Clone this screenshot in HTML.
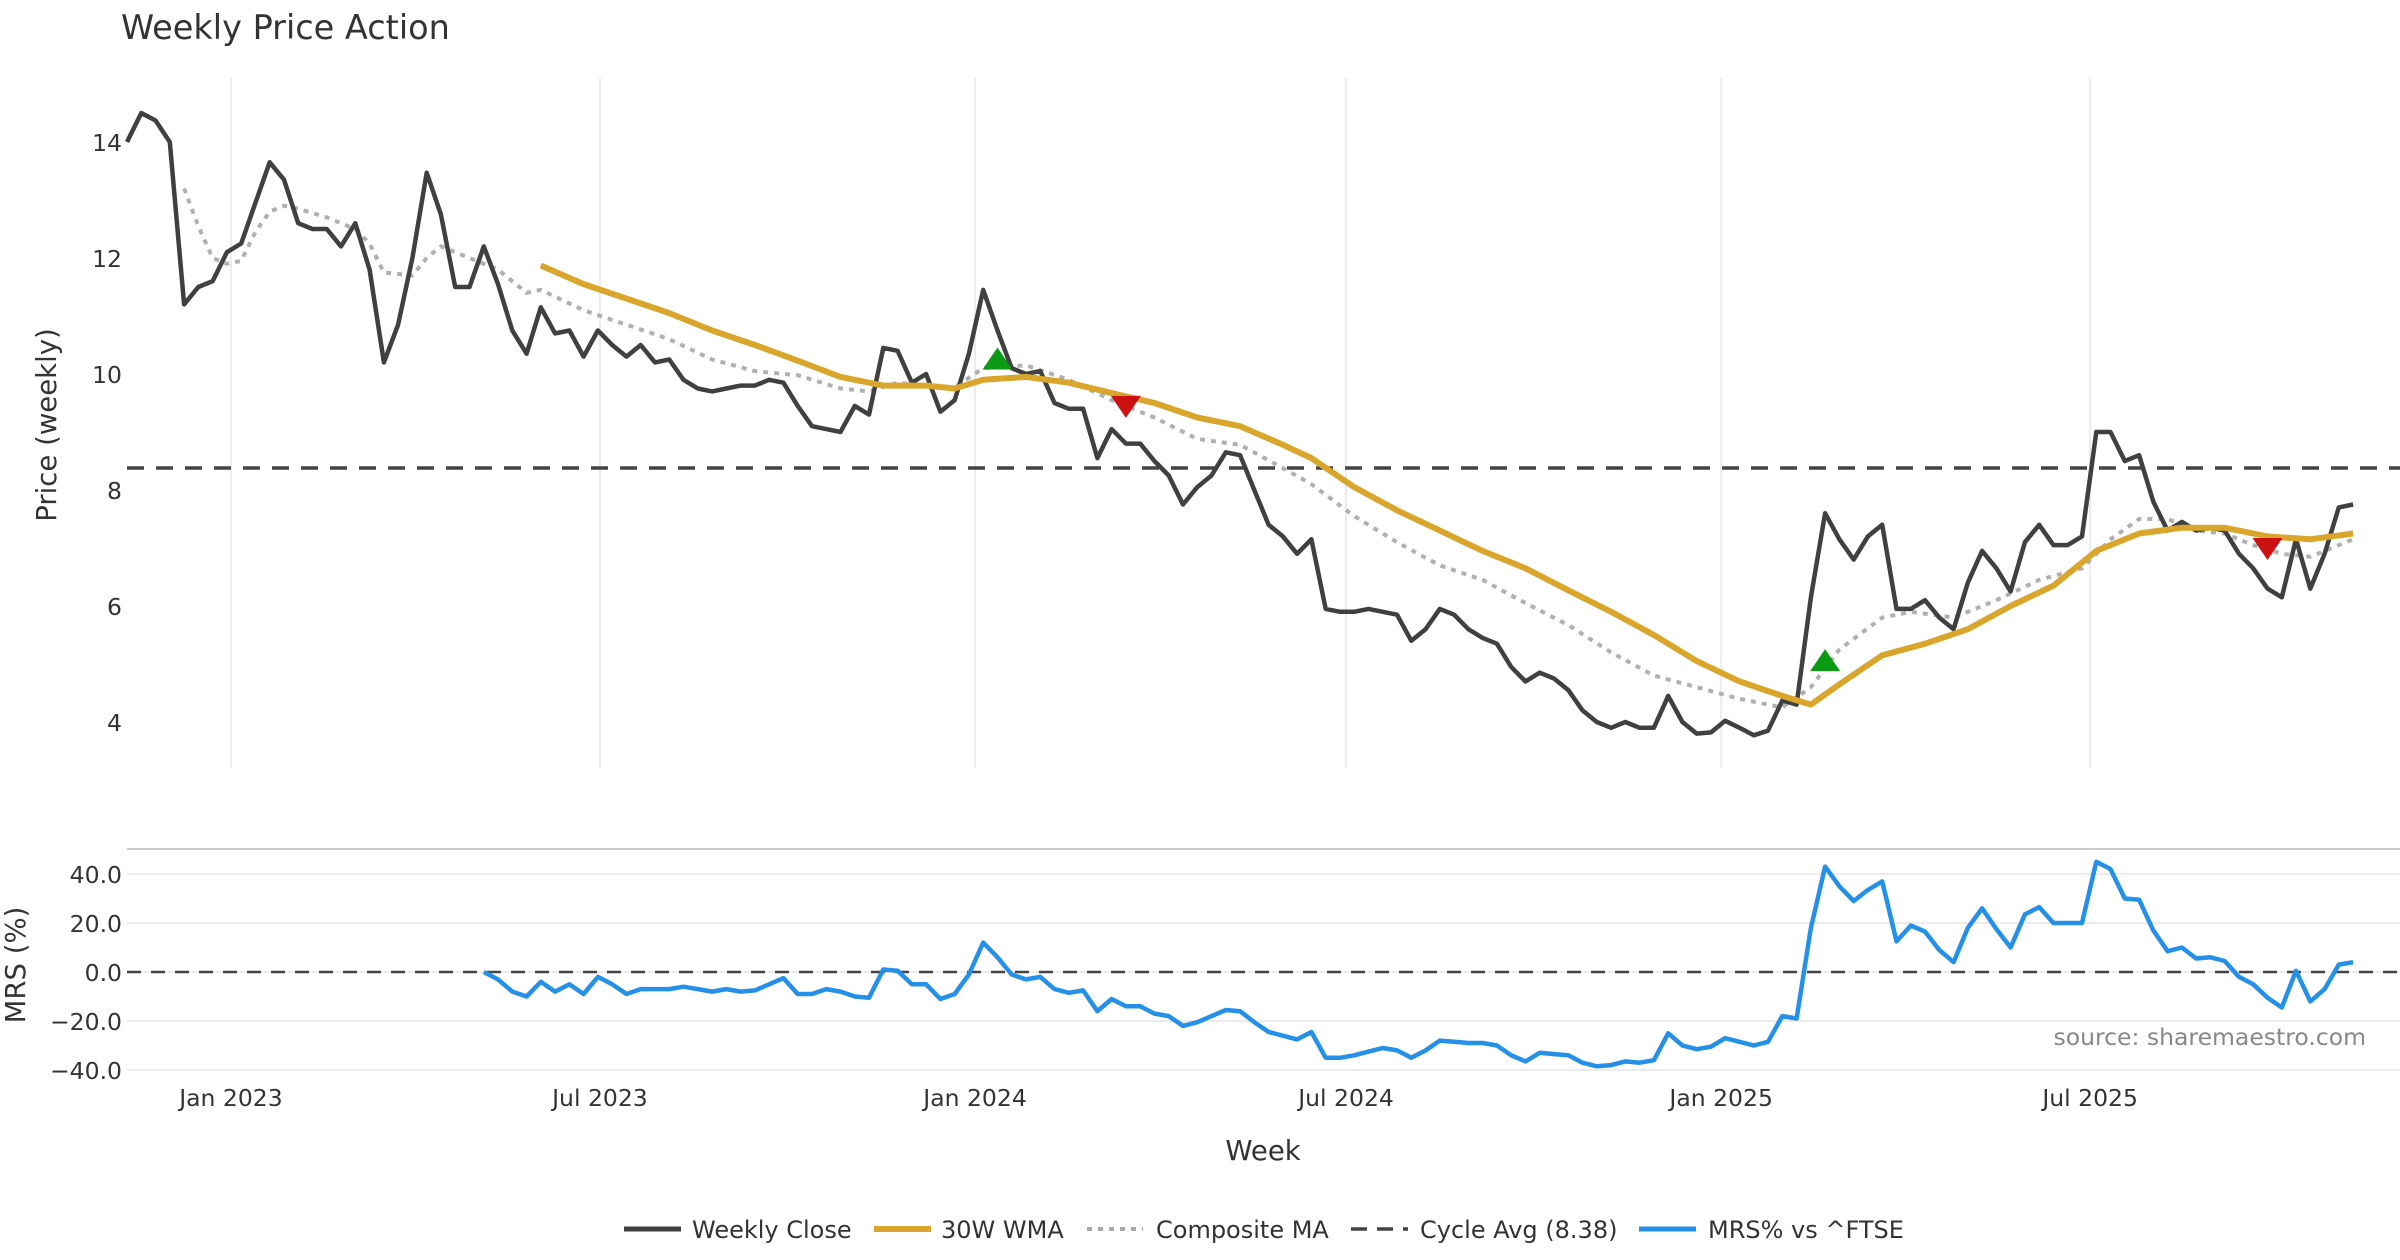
<!DOCTYPE html>
<html><head><meta charset="utf-8"><style>
html,body{margin:0;padding:0;background:#fff;}
svg{display:block;font-family:"DejaVu Sans","Liberation Sans",sans-serif;}
</style></head><body>
<svg id="chart" width="2400" height="1260" viewBox="0 0 2400 1260" xmlns="http://www.w3.org/2000/svg">
<rect width="2400" height="1260" fill="#fff"/>
<text x="121" y="39" font-size="33.5" fill="#333">Weekly Price Action</text>
<g id="grid"></g><g id="series"></g><g id="axes"></g>
<text transform="translate(56,425) rotate(-90)" text-anchor="middle" font-size="27.5" fill="#333">Price (weekly)</text>
<text transform="translate(25,965) rotate(-90)" text-anchor="middle" font-size="27.5" fill="#333">MRS (%)</text>
<text x="1263" y="1160" text-anchor="middle" font-size="27.5" fill="#333">Week</text>
<text x="2366" y="1045" text-anchor="end" font-size="23.5" fill="#888">source: sharemaestro.com</text>
<g id="legend">
<line x1="624" y1="1229" x2="681" y2="1229" stroke="#404040" stroke-width="5"/>
<text x="692" y="1238" font-size="24" fill="#333">Weekly Close</text>
<line x1="874" y1="1229" x2="931" y2="1229" stroke="#d9a62b" stroke-width="6"/>
<text x="941" y="1238" font-size="24" fill="#333">30W WMA</text>
<line x1="1087" y1="1229" x2="1143" y2="1229" stroke="#aaa" stroke-width="4" stroke-dasharray="5,6"/>
<text x="1156" y="1238" font-size="24" fill="#333">Composite MA</text>
<line x1="1351" y1="1229" x2="1408" y2="1229" stroke="#444" stroke-width="3.5" stroke-dasharray="16,10"/>
<text x="1420" y="1238" font-size="24" fill="#333">Cycle Avg (8.38)</text>
<line x1="1639" y1="1229" x2="1696" y2="1229" stroke="#2590e8" stroke-width="5"/>
<text x="1708" y="1238" font-size="24" fill="#333">MRS% vs ^FTSE</text>
</g>
</svg>
<script>
const closeVals=[14.0,14.5,14.37,14.0,11.2,11.5,11.6,12.1,12.25,12.95,13.65,13.35,12.6,12.5,12.5,12.2,12.6,11.8,10.2,10.85,12.0,13.47,12.75,11.5,11.5,12.2,11.55,10.75,10.35,11.15,10.7,10.75,10.3,10.75,10.5,10.3,10.5,10.2,10.25,9.9,9.75,9.7,9.75,9.8,9.8,9.9,9.85,9.45,9.1,9.05,9.0,9.45,9.3,10.45,10.4,9.85,10.0,9.35,9.55,10.35,11.45,10.75,10.1,10.0,10.05,9.5,9.4,9.4,8.55,9.05,8.8,8.8,8.5,8.25,7.75,8.05,8.25,8.65,8.6,8.0,7.4,7.2,6.9,7.15,5.95,5.9,5.9,5.95,5.9,5.85,5.4,5.6,5.95,5.85,5.6,5.45,5.35,4.95,4.7,4.85,4.75,4.55,4.2,4.0,3.9,4.0,3.9,3.9,4.45,4.0,3.8,3.82,4.02,3.9,3.77,3.85,4.37,4.3,6.15,7.6,7.15,6.8,7.2,7.4,5.95,5.95,6.1,5.8,5.6,6.4,6.95,6.65,6.25,7.1,7.4,7.05,7.05,7.2,9.0,9.0,8.5,8.6,7.8,7.3,7.45,7.3,7.35,7.3,6.9,6.65,6.3,6.15,7.15,6.3,6.9,7.7,7.75];
const wmaWeeks=[29,32,35,38,41,44,47,50,53,56,58,60,63,66,69,72,75,78,81,83,86,89,92,95,98,101,104,107,110,113,116,118,120,123,126,129,132,135,138,141,144,147,150,153,156];
const wmaVals=[11.87,11.55,11.3,11.05,10.75,10.5,10.23,9.95,9.8,9.8,9.75,9.9,9.95,9.85,9.67,9.5,9.25,9.1,8.78,8.55,8.05,7.65,7.3,6.95,6.65,6.27,5.9,5.5,5.05,4.7,4.45,4.3,4.65,5.15,5.35,5.6,6.0,6.35,6.95,7.25,7.35,7.35,7.2,7.15,7.25];
const cmaWeeks=[4,5,6,7,8,9,10,11,12,14,16,17,18,20,21,22,24,26,28,29,32,35,38,41,44,47,50,52,54,56,58,60,63,66,69,72,75,78,81,83,86,89,92,95,98,101,104,107,110,113,116,118,120,123,125,128,131,134,137,139,141,143,145,147,149,151,153,156];
const cmaVals=[13.2,12.55,12.0,11.9,11.95,12.45,12.8,12.9,12.85,12.7,12.5,12.25,11.75,11.7,12.0,12.2,12.0,11.8,11.4,11.45,11.1,10.85,10.6,10.25,10.05,9.98,9.75,9.7,9.85,9.8,9.77,10.1,10.15,9.9,9.55,9.25,8.88,8.78,8.38,8.1,7.55,7.1,6.7,6.45,6.05,5.67,5.2,4.8,4.6,4.4,4.25,4.6,5.25,5.8,5.9,5.8,6.1,6.45,6.65,7.15,7.5,7.5,7.3,7.25,7.05,6.9,6.85,7.15];
const mrsStart=25;
const mrsVals=[0,-3,-8,-10,-4,-8,-5,-9,-2,-5,-9,-7,-7,-7,-6,-7,-8,-7,-8,-7.5,-5,-2.5,-9,-9,-7,-8,-10,-10.5,1,0.5,-5,-5,-11,-9,-1,12,6,-1,-3,-2,-7,-8.5,-7.5,-16,-11,-14,-14,-17,-18,-22,-20.5,-18,-15.5,-16,-20.5,-24.5,-26,-27.5,-24.5,-35,-35,-34,-32.5,-31,-32,-35,-32,-28,-28.5,-29,-29,-30,-34,-36.5,-33,-33.5,-34,-37,-38.5,-38,-36.5,-37,-36,-25,-30,-31.5,-30.5,-27,-28.5,-30,-28.5,-18,-19,18,43,35,29,33.5,37,12.5,19,16.5,9,4,18,26,17.5,10,23.5,26.5,20,20,20,45,42,30,29.5,17,8.5,10,5.5,6,4.5,-2,-5,-10.5,-14.5,0.5,-12,-7,3,4];
const buyWeeks=[61,119], buyVals=[10.25,5.05];
const sellWeeks=[70,150], sellVals=[9.45,7.0];
const cycleAvg=8.38;
const priceTicks=[4,6,8,10,12,14];
const mrsTicks=[40,20,0,-20,-40];
const dateTicks=["2023-01-01","2023-07-01","2024-01-01","2024-07-01","2025-01-01","2025-07-01"];
const dateLabels=["Jan 2023","Jul 2023","Jan 2024","Jul 2024","Jan 2025","Jul 2025"];
const startDate=new Date("2022-11-11").getTime();

const NS="http://www.w3.org/2000/svg";
const X0=127, WK=14.27;
function xW(i){return X0+WK*i;}
function xD(s){return xW((new Date(s).getTime()-startDate)/(7*864e5));}
function yP(v){return 142+(14-v)*58;}
function yM(v){return 972-v*2.45;}
function mk(tag,attrs,parent){const e=document.createElementNS(NS,tag);for(const k in attrs)e.setAttribute(k,attrs[k]);parent.appendChild(e);return e;}
const grid=document.getElementById('grid'),ser=document.getElementById('series'),ax=document.getElementById('axes');

dateTicks.forEach((d,i)=>{
  const x=xD(d);
  const g=mk('line',{x1:x,y1:78,x2:x,y2:768,stroke:'#ececec','stroke-width':2},grid);
  
  
  const t=mk('text',{x:x,y:1106,'text-anchor':'middle','font-size':23.5,fill:'#333'},ax);
  t.textContent=dateLabels[i];
  
  
});
priceTicks.forEach(v=>{
  const t=mk('text',{x:122,y:yP(v)+9,'text-anchor':'end','font-size':23.5,fill:'#333'},ax);
  t.textContent=v;
  
  
});
const sep=mk('line',{x1:127,y1:849,x2:2400,y2:849,stroke:'#ccc','stroke-width':2},grid);


mrsTicks.forEach(v=>{
  const l=mk('line',{x1:127,y1:yM(v),x2:2400,y2:yM(v),stroke:'#ececec','stroke-width':2},grid);
  
  
  const t=mk('text',{x:122,y:yM(v)+9,'text-anchor':'end','font-size':23.5,fill:'#333'},ax);
  t.textContent=(v<0?'\u2212'+Math.abs(v).toFixed(1):v.toFixed(1));
  
  
});
const cyc=mk('line',{x1:127,y1:yP(cycleAvg),x2:2400,y2:yP(cycleAvg),stroke:'#444','stroke-width':3.5,'stroke-dasharray':'17,12'},ser);


const zl=mk('line',{x1:127,y1:yM(0),x2:2400,y2:yM(0),stroke:'#444','stroke-width':2.5,'stroke-dasharray':'14,10'},ser);



function pts(ws,vs,yf){return vs.map((v,i)=>xW(ws[i]).toFixed(1)+','+yf(v).toFixed(1)).join(' ');}
const cma=mk('polyline',{points:pts(cmaWeeks,cmaVals,yP),fill:'none',stroke:'#b0b0b0','stroke-width':4,'stroke-dasharray':'5,6'},ser);


const cl=mk('polyline',{points:pts(closeVals.map((_,i)=>i),closeVals,yP),fill:'none',stroke:'#404040','stroke-width':4.5,'stroke-linejoin':'round'},ser);


const wm=mk('polyline',{points:pts(wmaWeeks,wmaVals,yP),fill:'none',stroke:'#d9a62b','stroke-width':6,'stroke-linejoin':'round'},ser);


const mr=mk('polyline',{points:pts(mrsVals.map((_,i)=>i+mrsStart),mrsVals,yM),fill:'none',stroke:'#2590e8','stroke-width':4.5,'stroke-linejoin':'round'},ser);


buyWeeks.forEach((w,i)=>{
  const x=xW(w),y=yP(buyVals[i]);
  const p=mk('polygon',{points:`${x-15},${y+10} ${x+15},${y+10} ${x},${y-12}`,fill:'#0a9a14'},ser);
  
  
});
sellWeeks.forEach((w,i)=>{
  const x=xW(w),y=yP(sellVals[i]);
  const p=mk('polygon',{points:`${x-15},${y-10} ${x+15},${y-10} ${x},${y+12}`,fill:'#cc1111'},ser);
  
  
});
</script>
</body></html>
